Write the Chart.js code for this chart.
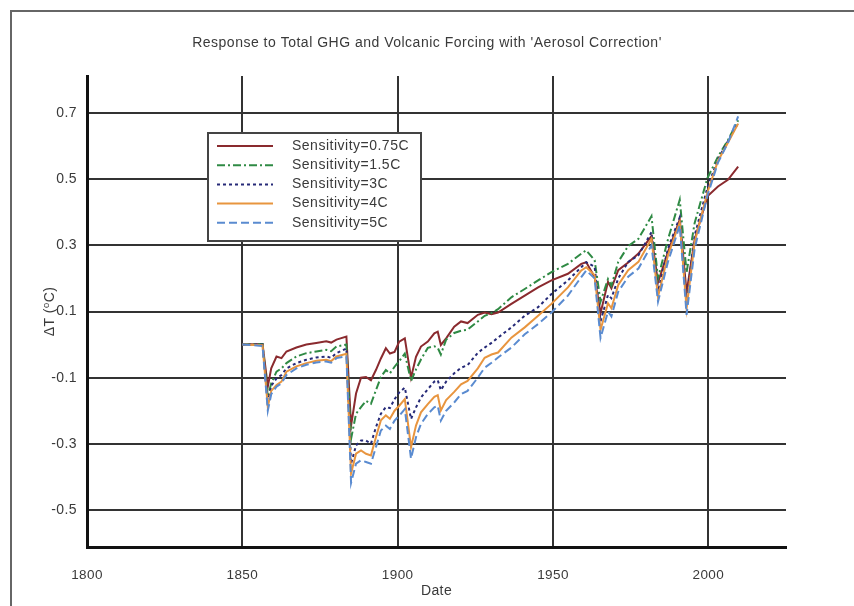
<!DOCTYPE html>
<html>
<head>
<meta charset="utf-8">
<script src="https://cdn.jsdelivr.net/npm/chart.js@4/dist/chart.umd.min.js"></script>
<style>
  body { margin: 0; background: #fff; }
  #wrap { width: 854px; height: 606px; }
</style>
</head>
<body>
<div id="wrap"><canvas id="chart" width="854" height="606"></canvas></div>
<script>
const years = [1850, 1856.5, 1858.2, 1859.3, 1861, 1862.6, 1864.2, 1867.4, 1870.6, 1873.8,
  1877, 1878.6, 1880.3, 1883.5, 1885, 1886.6, 1888.2, 1889.8, 1891.4, 1893,
  1894.6, 1896.2, 1897.5, 1899, 1900.5, 1902.3, 1904.3, 1905.9, 1907.5, 1909.7,
  1911.8, 1912.9, 1913.9, 1915.6, 1918.2, 1920.4, 1922.5, 1925.8, 1928, 1930.2,
  1932.3, 1936.6, 1940.9, 1945.2, 1949.5, 1954.8, 1959.1, 1960.7, 1963.4, 1965.3,
  1967.7, 1968.8, 1971, 1974.2, 1977.5, 1981.7, 1983.8, 1987, 1990.8, 1993,
  1995.6, 1999.7, 2003.1, 2006.3, 2009.6];

const sens075 = [0, 0.002, -0.127, -0.072, -0.036, -0.041, -0.021, -0.009, 0.0, 0.005,
  0.01, 0.006, 0.015, 0.024, -0.245, -0.148, -0.1, -0.098, -0.108, -0.077,
  -0.042, -0.011, -0.027, -0.022, 0.009, 0.019, -0.1, -0.037, -0.006, 0.009,
  0.034, 0.039, -0.001, 0.019, 0.054, 0.07, 0.065, 0.09, 0.097, 0.092,
  0.097, 0.123, 0.148, 0.173, 0.194, 0.214, 0.244, 0.249, 0.204, 0.095,
  0.19, 0.17, 0.225, 0.248, 0.275, 0.328, 0.188, 0.28, 0.378, 0.158,
  0.318, 0.448, 0.478, 0.498, 0.538];

const sens15 = [0, 0.002, -0.158, -0.117, -0.082, -0.072, -0.056, -0.036, -0.026, -0.021,
  -0.016, -0.02, -0.006, 0.0, -0.285, -0.209, -0.189, -0.17, -0.179, -0.138,
  -0.098, -0.077, -0.087, -0.067, -0.05, -0.027, -0.11, -0.075, -0.045, -0.01,
  -0.005, -0.01, -0.03, 0.015, 0.035, 0.042, 0.045, 0.07, 0.087, 0.095,
  0.107, 0.143, 0.168, 0.194, 0.219, 0.244, 0.275, 0.285, 0.255, 0.13,
  0.198, 0.178, 0.25, 0.298, 0.32, 0.388, 0.2, 0.318, 0.438, 0.218,
  0.368, 0.503, 0.568, 0.618, 0.678];

const sens3 = [0, 0.0, -0.175, -0.125, -0.102, -0.092, -0.072, -0.056, -0.046, -0.039,
  -0.036, -0.04, -0.026, -0.012, -0.36, -0.305, -0.29, -0.29, -0.3, -0.25,
  -0.209, -0.189, -0.192, -0.165, -0.145, -0.13, -0.225, -0.19, -0.16, -0.135,
  -0.112, -0.108, -0.138, -0.112, -0.087, -0.07, -0.062, -0.025, -0.009, 0.005,
  0.021, 0.052, 0.087, 0.113, 0.153, 0.194, 0.234, 0.249, 0.235, 0.07,
  0.15, 0.14, 0.2, 0.25, 0.27, 0.34, 0.16, 0.29, 0.385, 0.13,
  0.33, 0.475, 0.56, 0.615, 0.67];

const sens4 = [0, -0.002, -0.188, -0.14, -0.122, -0.112, -0.082, -0.066, -0.056, -0.049,
  -0.046, -0.05, -0.036, -0.028, -0.39, -0.33, -0.32, -0.33, -0.335, -0.28,
  -0.229, -0.214, -0.224, -0.2, -0.185, -0.165, -0.31, -0.245, -0.205, -0.18,
  -0.158, -0.153, -0.199, -0.168, -0.143, -0.12, -0.11, -0.072, -0.04, -0.03,
  -0.024, 0.021, 0.052, 0.087, 0.123, 0.173, 0.224, 0.234, 0.21, 0.045,
  0.125, 0.11, 0.18, 0.225, 0.25, 0.32, 0.145, 0.27, 0.37, 0.11,
  0.31, 0.46, 0.555, 0.61, 0.668];

const sens5 = [0, -0.004, -0.2, -0.15, -0.127, -0.117, -0.092, -0.072, -0.061, -0.054,
  -0.051, -0.055, -0.041, -0.035, -0.418, -0.36, -0.35, -0.355, -0.36, -0.31,
  -0.26, -0.245, -0.255, -0.23, -0.215, -0.195, -0.345, -0.28, -0.24, -0.21,
  -0.19, -0.185, -0.23, -0.2, -0.175, -0.15, -0.14, -0.1, -0.07, -0.055,
  -0.039, -0.009, 0.031, 0.062, 0.097, 0.148, 0.204, 0.224, 0.2, 0.02,
  0.1, 0.085, 0.16, 0.205, 0.23, 0.3, 0.13, 0.25, 0.36, 0.09,
  0.29, 0.45, 0.55, 0.61, 0.69];

const xTicks = [1800, 1850, 1900, 1950, 2000];
const yTicks = [-0.5, -0.3, -0.1, 0.1, 0.3, 0.5, 0.7];

const FONT = "'Liberation Sans', Arial, 'DejaVu Sans', sans-serif";
const TEXT = "#3a3a3a";

function series(label, values, color, dash, order) {
  return {
    label,
    data: years.map((y, i) => ({ x: y, y: values[i] })),
    borderColor: color,
    backgroundColor: color,
    borderWidth: 2,
    borderDash: dash,
    pointRadius: 0,
    tension: 0,
    order
  };
}

// frame, title and the boxed legend inside the plot
const decor = {
  id: "decor",
  beforeLayout(chart) {
    chart.ctx.letterSpacing = "0.4px";
  },
  beforeDraw(chart) {
    const ctx = chart.ctx;
    ctx.letterSpacing = "0.4px";
    ctx.save();
    ctx.strokeStyle = "#666";
    ctx.lineWidth = 2;
    ctx.strokeRect(11, 11, 900, 700);
    ctx.restore();
  },
  afterDraw(chart) {
    const ctx = chart.ctx;
    ctx.save();
    ctx.letterSpacing = "0.5px";
    ctx.fillStyle = TEXT;
    ctx.font = "14px " + FONT;
    ctx.textAlign = "center";
    ctx.textBaseline = "middle";
    ctx.fillText("Response to Total GHG and Volcanic Forcing with 'Aerosol Correction'", 427, 43);

    ctx.fillStyle = "#fff";
    ctx.fillRect(208, 133, 213, 108);
    ctx.strokeStyle = "#444";
    ctx.lineWidth = 2;
    ctx.strokeRect(208, 133, 213, 108);

    chart.data.datasets.forEach((ds, i) => {
      const y = 146 + i * 19.2;
      ctx.strokeStyle = ds.borderColor;
      ctx.lineWidth = 2;
      ctx.setLineDash(ds.borderDash || []);
      ctx.beginPath();
      ctx.moveTo(217, y);
      ctx.lineTo(273, y);
      ctx.stroke();
      ctx.setLineDash([]);
      ctx.fillStyle = TEXT;
      ctx.textAlign = "left";
      ctx.font = "14px " + FONT;
      ctx.fillText(ds.label, 292, y);
    });
    ctx.restore();
  }
};

new Chart(document.getElementById("chart"), {
  type: "line",
  data: {
    datasets: [
      series("Sensitivity=0.75C", sens075, "#8a2a2e", [], 4),
      series("Sensitivity=1.5C", sens15, "#2f8a44", [8, 3, 2, 3], 3),
      series("Sensitivity=3C", sens3, "#262a78", [3, 3], 2),
      series("Sensitivity=4C", sens4, "#e8953f", [], 1),
      series("Sensitivity=5C", sens5, "#5a8bd0", [8, 4], 0)
    ]
  },
  options: {
    responsive: false,
    animation: false,
    layout: { padding: { left: 0, top: 76, right: 68, bottom: 0 } },
    plugins: {
      legend: { display: false },
      title: { display: false },
      tooltip: { enabled: false }
    },
    scales: {
      x: {
        type: "linear",
        min: 1800,
        max: 2025,
        afterBuildTicks: s => { s.ticks = xTicks.map(v => ({ value: v })); },
        afterFit: s => { s.height = 59; },
        grid: { color: "#333", lineWidth: 2, drawTicks: false },
        border: { color: "#111", width: 3 },
        ticks: { padding: 20, color: TEXT, font: { family: FONT, size: 13.5 }, maxRotation: 0, callback: v => String(v) },
        title: { display: true, text: "Date", color: TEXT, font: { family: FONT, size: 14 }, padding: { bottom: 6 } }
      },
      y: {
        min: -0.612,
        max: 0.812,
        afterBuildTicks: s => { s.ticks = yTicks.map(v => ({ value: v })); },
        afterFit: s => { s.width = 87; },
        grid: { color: "#333", lineWidth: 2, drawTicks: false },
        border: { color: "#111", width: 3 },
        ticks: { padding: 10, color: TEXT, font: { family: FONT, size: 14 }, callback: v => v.toFixed(1) },
        title: { display: true, text: "ΔT (⁰C)", color: TEXT, font: { family: FONT, size: 14 }, padding: { top: 42 } }
      }
    }
  },
  plugins: [decor]
});
</script>
</body>
</html>
